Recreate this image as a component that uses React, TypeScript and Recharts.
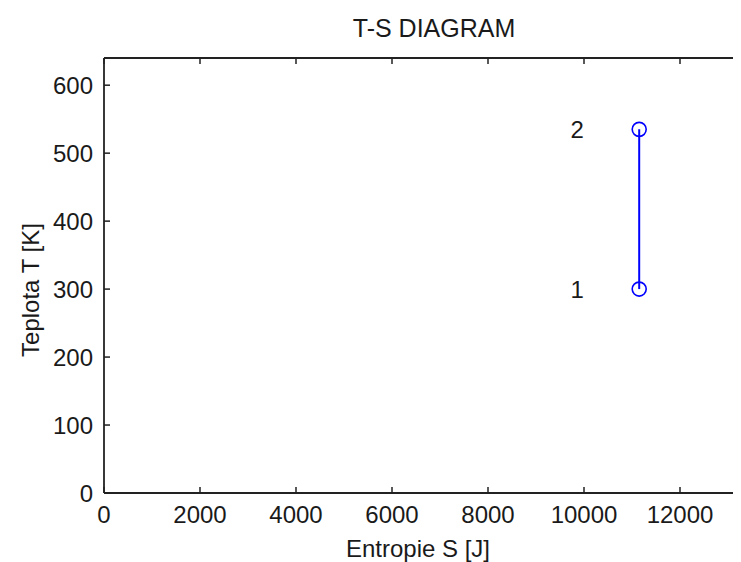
import { ComposedChart, Line, XAxis, YAxis } from "recharts"

// process states on the T-S plane
const stateLabels = ["1", "2"]
const entropy = [11150, 11150]
const temperature = [300, 535]

const xTicks = [0, 2000, 4000, 6000, 8000, 10000, 12000]
const yTicks = [0, 100, 200, 300, 400, 500, 600]

const data = stateLabels.map((name, i) => ({ name, s: entropy[i], t: temperature[i] }))

const FONT = "'Liberation Sans', Arial, sans-serif"
const AXIS = "#222"
const TICK_LEN = 6

const BottomTick = (props: any) => {
  const { x, y, payload } = props
  return (
    <g>
      <line x1={x} y1={y} x2={x} y2={y - TICK_LEN} stroke={AXIS} strokeWidth={1.5} />
      <text x={x} y={y + 30} textAnchor="middle" fontSize={24} fontFamily={FONT} fill="#1a1a1a">
        {payload.value}
      </text>
    </g>
  )
}

const LeftTick = (props: any) => {
  const { x, y, payload } = props
  return (
    <g>
      <line x1={x} y1={y} x2={x + TICK_LEN} y2={y} stroke={AXIS} strokeWidth={1.5} />
      <text x={x - 11} y={y + 8.6} textAnchor="end" fontSize={24} fontFamily={FONT} fill="#1a1a1a">
        {payload.value}
      </text>
    </g>
  )
}

const TopTick = (props: any) => {
  const { x, y } = props
  return <line x1={x} y1={y} x2={x} y2={y + TICK_LEN} stroke={AXIS} strokeWidth={1.5} />
}

const RightTick = (props: any) => {
  const { x, y } = props
  return <line x1={x} y1={y} x2={x - TICK_LEN} y2={y} stroke={AXIS} strokeWidth={1.5} />
}

const StateLabel = (props: any) => {
  const { x, y, index } = props
  return (
    <text x={x - 62} y={y + 8.6} textAnchor="middle" fontSize={24} fontFamily={FONT} fill="#1a1a1a">
      {stateLabels[index]}
    </text>
  )
}

export default function App() {
  return (
    <div style={{ width: 733, height: 554, overflow: "hidden", background: "#fff" }}>
      <ComposedChart width={760} height={554} data={data} margin={{ top: 40, right: 15.6, bottom: 9, left: 36 }}>
        <XAxis
          xAxisId="bottom"
          type="number"
          dataKey="s"
          domain={[0, 13300]}
          ticks={xTicks}
          height={60}
          tickSize={0}
          tickMargin={0}
          tickLine={false}
          axisLine={{ stroke: AXIS, strokeWidth: 1.8 }}
          tick={<BottomTick />}
          interval={0}
          allowDataOverflow
        />
        <XAxis
          xAxisId="top"
          orientation="top"
          type="number"
          dataKey="s"
          domain={[0, 13300]}
          ticks={xTicks}
          height={10}
          tickSize={0}
          tickMargin={0}
          tickLine={false}
          axisLine={{ stroke: AXIS, strokeWidth: 1.8 }}
          tick={<TopTick />}
          interval={0}
          allowDataOverflow
        />
        <YAxis
          yAxisId="left"
          type="number"
          domain={[0, 640]}
          ticks={yTicks}
          width={60}
          tickSize={0}
          tickMargin={0}
          tickLine={false}
          axisLine={{ stroke: AXIS, strokeWidth: 1.8 }}
          tick={<LeftTick />}
          interval={0}
          allowDataOverflow
        />
        <YAxis
          yAxisId="right"
          orientation="right"
          type="number"
          domain={[0, 640]}
          ticks={yTicks}
          width={10}
          tickSize={0}
          tickMargin={0}
          tickLine={false}
          axisLine={{ stroke: AXIS, strokeWidth: 1.8 }}
          tick={<RightTick />}
          interval={0}
          allowDataOverflow
        />
        <Line
          xAxisId="bottom"
          yAxisId="left"
          dataKey="t"
          type="linear"
          stroke="#0000ff"
          strokeWidth={2}
          dot={{ r: 7, stroke: "#0000ff", strokeWidth: 1.6, fill: "none" }}
          activeDot={false}
          label={<StateLabel />}
          isAnimationActive={false}
        />
        <text x={426} y={28.7} textAnchor="middle" fontSize={25} fontFamily={FONT} fill="#1a1a1a">
          T-S DIAGRAM
        </text>
        <text x={410} y={548.5} textAnchor="middle" fontSize={24} fontFamily={FONT} fill="#1a1a1a">
          Entropie S [J]
        </text>
        <text
          x={22}
          y={282}
          transform="rotate(-90 22 282)"
          textAnchor="middle"
          fontSize={24}
          fontFamily={FONT}
          fill="#1a1a1a"
          dominantBaseline="central"
        >
          Teplota T [K]
        </text>
      </ComposedChart>
    </div>
  )
}
